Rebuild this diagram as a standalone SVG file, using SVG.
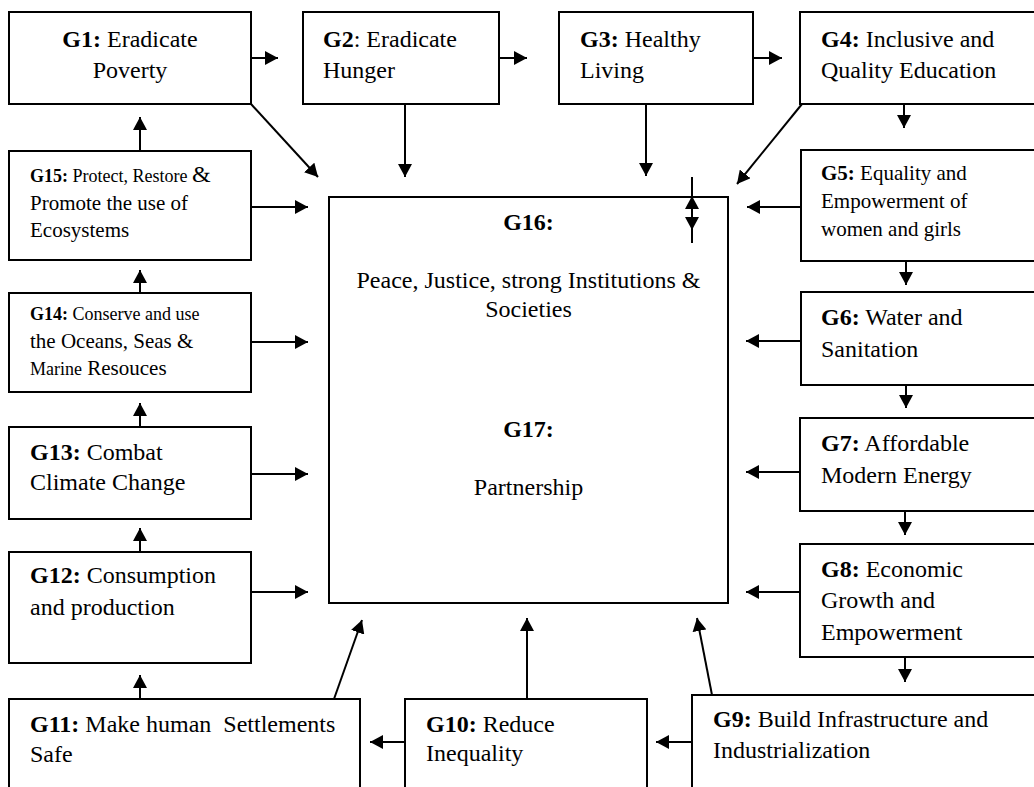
<svg xmlns="http://www.w3.org/2000/svg" width="1034" height="787" viewBox="0 0 1034 787" font-family="'Liberation Serif', Tinos, 'Times New Roman', 'DejaVu Serif', serif">
<style>
.box{fill:#fff;stroke:#000;stroke-width:2}
.t{font-family:'Liberation Serif', Tinos, 'Times New Roman', 'DejaVu Serif', serif;font-size:24px;fill:#000}
.m{font-size:21px}
.s{font-size:18px}
.b{font-weight:bold}
.c{stroke:#000;stroke-width:2;fill:none;marker-end:url(#ah)}
</style>
<defs>
<marker id="ah" markerUnits="userSpaceOnUse" markerWidth="14" markerHeight="14" refX="13" refY="7" orient="auto">
<path d="M0,0 L13,7 L0,14 z" fill="#000"/>
</marker>
</defs>
<rect width="1034" height="787" fill="#fff"/>
<g id="G1"><rect class="box" x="9" y="12" width="242" height="92"/><text class="t" x="130" y="47" text-anchor="middle"><tspan class="b">G1:</tspan> Eradicate</text><text class="t" x="130" y="78" text-anchor="middle">Poverty</text></g>
<g id="G2"><rect class="box" x="303" y="12" width="196" height="92"/><text class="t" x="323" y="47"><tspan class="b">G2</tspan>: Eradicate</text><text class="t" x="323" y="78">Hunger</text></g>
<g id="G3"><rect class="box" x="559" y="12" width="194" height="92"/><text class="t" x="580" y="47"><tspan class="b">G3:</tspan> Healthy</text><text class="t" x="580" y="78">Living</text></g>
<g id="G4"><rect class="box" x="800" y="12" width="250" height="92"/><text class="t" x="821" y="47"><tspan class="b">G4:</tspan> Inclusive and</text><text class="t" x="821" y="78">Quality Education</text></g>
<g id="G5"><rect class="box" x="801" y="150" width="250" height="111"/><text class="t m" x="821" y="180"><tspan class="b">G5:</tspan> Equality and</text><text class="t m" x="821" y="208">Empowerment of</text><text class="t m" x="821" y="236">women and girls</text></g>
<g id="G6"><rect class="box" x="801" y="292" width="250" height="93"/><text class="t" x="821" y="325"><tspan class="b">G6:</tspan> Water and</text><text class="t" x="821" y="357">Sanitation</text></g>
<g id="G7"><rect class="box" x="800" y="418" width="250" height="93"/><text class="t" x="821" y="451"><tspan class="b">G7:</tspan> Affordable</text><text class="t" x="821" y="483">Modern Energy</text></g>
<g id="G8"><rect class="box" x="800" y="544" width="250" height="113"/><text class="t" x="821" y="577"><tspan class="b">G8:</tspan> Economic</text><text class="t" x="821" y="608">Growth and</text><text class="t" x="821" y="640">Empowerment</text></g>
<g id="G9"><rect class="box" x="692" y="695" width="360" height="120"/><text class="t" x="713" y="727"><tspan class="b">G9:</tspan> Build Infrastructure and</text><text class="t" x="713" y="758">Industrialization</text></g>
<g id="G10"><rect class="box" x="405" y="699" width="242" height="120"/><text class="t" x="426" y="732"><tspan class="b">G10:</tspan> Reduce</text><text class="t" x="426" y="761">Inequality</text></g>
<g id="G11"><rect class="box" x="9" y="699" width="351" height="120"/><text class="t" x="30" y="732" xml:space="preserve"><tspan class="b">G11:</tspan> Make human  Settlements</text><text class="t" x="30" y="762">Safe</text></g>
<g id="G12"><rect class="box" x="9" y="552" width="242" height="111"/><text class="t" x="30" y="583"><tspan class="b">G12:</tspan> Consumption</text><text class="t" x="30" y="615">and production</text></g>
<g id="G13"><rect class="box" x="9" y="427" width="242" height="92"/><text class="t" x="30" y="460"><tspan class="b">G13:</tspan> Combat</text><text class="t" x="30" y="490">Climate Change</text></g>
<g id="G14"><rect class="box" x="9" y="293" width="242" height="99"/><text class="t s" x="30" y="320"><tspan class="b">G14:</tspan> Conserve and use</text><text class="t m" x="30" y="348">the Oceans, Seas &amp;</text><text class="t m" x="30" y="375"><tspan class="s">Marine</tspan> Resouces</text></g>
<g id="G15"><rect class="box" x="9" y="151" width="242" height="109"/><text class="t s" x="30" y="182"><tspan class="b">G15:</tspan> Protect, Restore <tspan style="font-size:24px">&amp;</tspan></text><text class="t m" x="30" y="210">Promote the use of</text><text class="t m" x="30" y="237">Ecosystems</text></g>
<g id="G16_G17"><rect class="box" x="329" y="197" width="399" height="406"/><text class="t b" x="528.5" y="230" text-anchor="middle">G16:</text><text class="t" x="528.5" y="288" text-anchor="middle">Peace, Justice, strong Institutions &amp;</text><text class="t" x="528.5" y="317" text-anchor="middle">Societies</text><text class="t b" x="528.5" y="437" text-anchor="middle">G17:</text><text class="t" x="528.5" y="495" text-anchor="middle">Partnership</text></g>
<g id="connectors">
<line class="c" x1="251" y1="58" x2="278" y2="58"/>
<line class="c" x1="499" y1="58" x2="527" y2="58"/>
<line class="c" x1="753" y1="58" x2="782" y2="58"/>
<line class="c" x1="251" y1="104" x2="318" y2="177"/>
<line class="c" x1="405" y1="104" x2="405" y2="177"/>
<line class="c" x1="646" y1="104" x2="646" y2="176"/>
<line class="c" x1="802" y1="104" x2="737" y2="184"/>
<line class="c" x1="904" y1="104" x2="904" y2="128"/>
<line class="c" x1="801" y1="207" x2="747" y2="207"/>
<line class="c" x1="906" y1="261" x2="906" y2="285"/>
<line class="c" x1="801" y1="341" x2="746" y2="341"/>
<line class="c" x1="906" y1="385" x2="906" y2="408"/>
<line class="c" x1="800" y1="472" x2="746" y2="472"/>
<line class="c" x1="905" y1="511" x2="905" y2="535"/>
<line class="c" x1="800" y1="592" x2="746" y2="592"/>
<line class="c" x1="905" y1="657" x2="905" y2="682"/>
<line class="c" x1="712" y1="695" x2="697" y2="618"/>
<line class="c" x1="692" y1="742" x2="656" y2="742"/>
<line class="c" x1="527" y1="699" x2="527" y2="618"/>
<line class="c" x1="405" y1="742" x2="370" y2="742"/>
<line class="c" x1="334" y1="699" x2="362" y2="620"/>
<line class="c" x1="140" y1="699" x2="140" y2="675"/>
<line class="c" x1="251" y1="592" x2="308" y2="592"/>
<line class="c" x1="140" y1="552" x2="140" y2="528"/>
<line class="c" x1="251" y1="474" x2="308" y2="474"/>
<line class="c" x1="140" y1="427" x2="140" y2="403"/>
<line class="c" x1="251" y1="342" x2="308" y2="342"/>
<line class="c" x1="140" y1="293" x2="140" y2="270"/>
<line class="c" x1="251" y1="207" x2="308" y2="207"/>
<line class="c" x1="140" y1="151" x2="140" y2="117"/>
<line class="c" x1="692" y1="243" x2="692" y2="196"/>
<line class="c" x1="692" y1="177" x2="692" y2="230"/>
</g>
</svg>
